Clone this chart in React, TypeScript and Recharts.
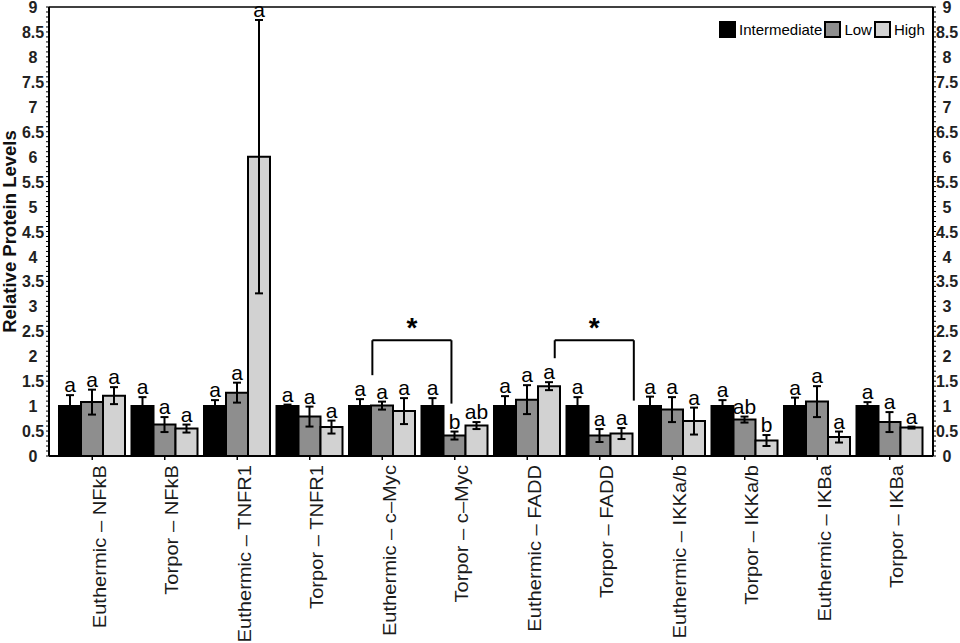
import React from 'react';
import {
  ComposedChart,
  Bar,
  XAxis,
  YAxis,
  ErrorBar,
  LabelList,
  ReferenceLine,
  ReferenceDot,
  Legend,
} from 'recharts';

const categories = [
  'Euthermic – NFkB',
  'Torpor – NFkB',
  'Euthermic – TNFR1',
  'Torpor – TNFR1',
  'Euthermic – c–Myc',
  'Torpor – c–Myc',
  'Euthermic – FADD',
  'Torpor – FADD',
  'Euthermic – IKKa/b',
  'Torpor – IKKa/b',
  'Euthermic – IKBa',
  'Torpor – IKBa',
];

const seriesNames = ['Intermediate', 'Low', 'High'];
const seriesColors = ['#000000', '#8e8e8e', '#d2d2d2'];

const intermediate = [1, 1, 1, 1, 1, 1, 1, 1, 1, 1, 1, 1];
const intermediateErr = [0.22, 0.18, 0.12, 0.03, 0.14, 0.16, 0.2, 0.18, 0.19, 0.12, 0.17, 0.08];
const low = [1.08, 0.63, 1.27, 0.79, 1.01, 0.41, 1.13, 0.41, 0.93, 0.73, 1.09, 0.68];
const lowErr = [0.25, 0.15, 0.2, 0.2, 0.08, 0.08, 0.29, 0.13, 0.25, 0.06, 0.31, 0.2];
const high = [1.21, 0.55, 6.0, 0.58, 0.9, 0.61, 1.4, 0.45, 0.7, 0.31, 0.38, 0.57];
const highErr = [0.17, 0.08, 2.74, 0.13, 0.26, 0.07, 0.08, 0.11, 0.27, 0.11, 0.11, 0.02];

const intermediateLetters = ['a', 'a', 'a', 'a', 'a', 'a', 'a', 'a', 'a', 'a', 'a', 'a'];
const lowLetters = ['a', 'a', 'a', 'a', 'a', 'b', 'a', 'a', 'a', 'ab', 'a', 'a'];
const highLetters = ['a', 'a', 'a', 'a', 'a', 'ab', 'a', 'a', 'a', 'b', 'a', 'a'];

const majorTicks = [0, 0.5, 1, 1.5, 2, 2.5, 3, 3.5, 4, 4.5, 5, 5.5, 6, 6.5, 7, 7.5, 8, 8.5, 9];

// significance brackets: category index pairs, series bar they attach to, and y levels
const brackets = [
  { from: 4, to: 5, series: 1, leftBase: 1.62, rightBase: 1.05, top: 2.32, star: 2.66 },
  { from: 6, to: 7, series: 2, leftBase: 1.96, rightBase: 1.11, top: 2.32, star: 2.66 },
];

const FONT = '"Liberation Sans", Arial, Helvetica, sans-serif';

const WIDTH = 960;
const HEIGHT = 643;
const LEFT_W = 49;
const RIGHT_W = 27;
const X_PAD = 7;
const CAT_GAP = 3;

const bandSize = (WIDTH - LEFT_W - RIGHT_W - 2 * X_PAD) / categories.length;
const barFrac = (bandSize - 2 * CAT_GAP) / 3 / bandSize;

const allTicks: number[] = [];
majorTicks.forEach((t, i) => {
  allTicks.push(t);
  if (i < majorTicks.length - 1) {
    for (let k = 1; k < 5; k++) allTicks.push(Math.round((t + k * 0.1) * 10) / 10);
  }
});
const isMajor = (v: number) => majorTicks.includes(v);

const data = categories.map((name, i) => ({
  name,
  intermediate: intermediate[i],
  intermediateErr: intermediateErr[i],
  low: low[i],
  lowErr: lowErr[i],
  high: high[i],
  highErr: highErr[i],
}));

const makeLetterLabel = (errs: number[], letters: string[]) => (props: any) => {
  const { x, y, width, height, index, value } = props;
  const pxPerUnit = Number(height) / Number(value);
  const top = Number(y) - errs[index] * pxPerUnit;
  return (
    <text
      x={Number(x) + Number(width) / 2}
      y={top - 3}
      textAnchor="middle"
      fontSize={21}
      fontFamily={FONT}
      fill="#000"
    >
      {letters[index]}
    </text>
  );
};

const XTick = (props: any) => {
  const { x, y, payload } = props;
  return (
    <g transform={`translate(${x},${y + 3}) rotate(-90) scale(1.06,1)`}>
      <text x={0} y={13.5} textAnchor="end" fontSize={19} fontFamily={FONT} fill="#1a1a1a">
        {payload.value}
      </text>
    </g>
  );
};

const YTick = (props: any) => {
  const { x, y, payload } = props;
  if (!isMajor(payload.value)) return <g />;
  return (
    <text
      x={x}
      y={y}
      dy="0.38em"
      textAnchor="middle"
      fontSize={16}
      fontWeight="bold"
      fontFamily={FONT}
      fill="#222"
    >
      {String(payload.value)}
    </text>
  );
};

const YTitle = (props: any) => {
  const vb = props.viewBox || { x: 0, y: 7, height: 449 };
  const cx = vb.x + 16;
  const cy = vb.y + vb.height / 2;
  return (
    <text
      x={cx}
      y={cy}
      transform={`rotate(-90, ${cx}, ${cy})`}
      textAnchor="middle"
      fontSize={18.5}
      fontWeight="bold"
      fontFamily={FONT}
      fill="#111"
    >
      Relative Protein Levels
    </text>
  );
};

const LegendContent = () => (
  <div style={{ display: 'flex', alignItems: 'center', fontFamily: FONT, fontSize: 15, color: '#000' }}>
    {seriesNames.map((n, i) => (
      <div key={n} style={{ display: 'flex', alignItems: 'center' }}>
        <span
          style={{
            display: 'inline-block',
            width: 17,
            height: 17,
            boxSizing: 'border-box',
            border: '2px solid #000',
            background: seriesColors[i],
            marginRight: 3,
          }}
        />
        <span style={{ marginRight: 2, lineHeight: '17px' }}>{n}</span>
      </div>
    ))}
  </div>
);

const Star = (props: any) => (
  <text
    x={props.cx}
    y={props.cy + 14}
    textAnchor="middle"
    fontSize={28}
    fontWeight="bold"
    fontFamily={FONT}
    fill="#000"
  >
    *
  </text>
);

export default function App() {
  const errs = [intermediateErr, lowErr, highErr];
  const letters = [intermediateLetters, lowLetters, highLetters];
  const keys = ['intermediate', 'low', 'high'];
  return (
    <div style={{ position: 'absolute', left: 0, top: 0, width: WIDTH, height: HEIGHT, background: '#fff' }}>
      <ComposedChart
        width={WIDTH}
        height={HEIGHT}
        data={data}
        margin={{ top: 7, right: 0, bottom: 0, left: 0 }}
        barCategoryGap={CAT_GAP}
        barGap={0}
      >
        <XAxis
          dataKey="name"
          type="category"
          interval={0}
          height={187}
          padding={{ left: X_PAD, right: X_PAD }}
          axisLine={{ stroke: '#000', strokeWidth: 2 }}
          tickLine={{ stroke: '#000', strokeWidth: 1.5 }}
          tickSize={4}
          tick={<XTick />}
        />
        <XAxis
          xAxisId="num"
          type="number"
          domain={[-0.5, categories.length - 0.5]}
          allowDataOverflow
          padding={{ left: X_PAD, right: X_PAD }}
          hide
        />
        <YAxis
          yAxisId="left"
          width={LEFT_W}
          domain={[0, 9]}
          ticks={allTicks}
          interval={0}
          allowDataOverflow
          axisLine={{ stroke: '#000', strokeWidth: 2 }}
          tickLine={{ stroke: '#000', strokeWidth: 1 }}
          tickSize={3}
          tickMargin={13}
          tick={<YTick />}
          label={<YTitle />}
        />
        <YAxis
          yAxisId="right"
          orientation="right"
          width={RIGHT_W}
          domain={[0, 9]}
          ticks={allTicks}
          interval={0}
          allowDataOverflow
          axisLine={{ stroke: '#000', strokeWidth: 2 }}
          tickLine={{ stroke: '#000', strokeWidth: 1 }}
          tickSize={3}
          tickMargin={11}
          tick={<YTick />}
        />
        <ReferenceLine yAxisId="left" y={9} stroke="#000" strokeWidth={1.5} />
        <Legend
          content={<LegendContent />}
          layout="horizontal"
          align="center"
          verticalAlign="middle"
          wrapperStyle={{ top: 21, left: 719, width: 'auto', height: 17 }}
        />
        {keys.map((k, i) => (
          <Bar
            key={k}
            yAxisId="left"
            dataKey={k}
            name={seriesNames[i]}
            fill={seriesColors[i]}
            stroke="#000"
            strokeWidth={2}
            isAnimationActive={false}
          >
            <ErrorBar
              dataKey={`${k}Err`}
              width={4}
              stroke="#000"
              strokeWidth={2}
              isAnimationActive={false}
            />
            <LabelList dataKey={k} content={makeLetterLabel(errs[i], letters[i])} />
          </Bar>
        ))}
        {brackets.map((b, i) => {
          const off = (b.series - 1) * barFrac;
          const xl = b.from + off;
          const xr = b.to + off;
          return (
            <React.Fragment key={i}>
              <ReferenceLine
                xAxisId="num"
                yAxisId="left"
                segment={[{ x: xl, y: b.leftBase }, { x: xl, y: b.top }]}
                stroke="#000"
                strokeWidth={2}
              />
              <ReferenceLine
                xAxisId="num"
                yAxisId="left"
                segment={[{ x: xl, y: b.top }, { x: xr, y: b.top }]}
                stroke="#000"
                strokeWidth={2}
              />
              <ReferenceLine
                xAxisId="num"
                yAxisId="left"
                segment={[{ x: xr, y: b.top }, { x: xr, y: b.rightBase }]}
                stroke="#000"
                strokeWidth={2}
              />
              <ReferenceDot
                xAxisId="num"
                yAxisId="left"
                x={(xl + xr) / 2}
                y={b.star}
                r={0}
                shape={<Star />}
              />
            </React.Fragment>
          );
        })}
      </ComposedChart>
    </div>
  );
}
